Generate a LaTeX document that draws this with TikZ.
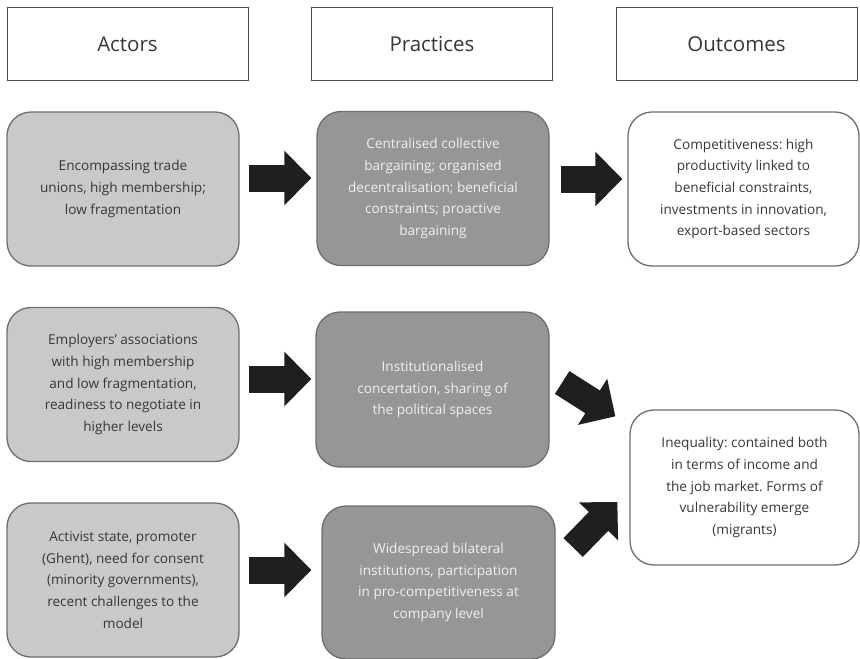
\documentclass[tikz,border=0pt]{standalone}
\usepackage{fontspec}
\setmainfont{Open Sans}
\frenchspacing
\usetikzlibrary{calc,arrows.meta}
\definecolor{lightfill}{RGB}{201,201,202}
\definecolor{darkfill}{RGB}{150,150,152}
\definecolor{boxline}{RGB}{110,110,112}
\definecolor{txt}{RGB}{55,55,55}
\definecolor{lighttxt}{RGB}{240,240,240}
\begin{document}
\begin{tikzpicture}[x=1pt,y=-1pt,
  header/.style={draw=txt!90, line width=0.9pt, fill=white, minimum width=241pt, minimum height=73pt,
    inner sep=0pt, text=txt, font=\fontsize{20.5pt}{24pt}\selectfont},
  basebox/.style={rounded corners=24pt, line width=1.3pt, draw=boxline, minimum width=232pt,
    minimum height=154pt, inner sep=0pt, align=center, font=\frenchspacing\fontsize{13.6pt}{21.6pt}\selectfont},
  actbox/.style={basebox, fill=lightfill, text=txt},
  pracbox/.style={basebox, fill=darkfill, text=lighttxt},
  outbox/.style={basebox, fill=white, text=txt, minimum width=231pt},
  bigarrow/.style={line width=27pt, draw=black!88, -{Triangle[length=27pt,width=53pt]}}
]
\useasboundingbox (0,0) rectangle (860,659);
\fill[white] (0,0) rectangle (860,659);

% headers
\node[header] (h1) at (127.5,44) {Actors};
\node[header] (h2) at (432,44) {Practices};
\node[header] (h3) at (736.5,44) {Outcomes};

% row 1
\node[actbox] (a1) at (123,189) {Encompassing trade\\unions, high membership;\\low fragmentation};
\node[pracbox] (p1) at (433,188.5) {Centralised collective\\bargaining; organised\\decentralisation; beneficial\\constraints; proactive\\bargaining};
\node[outbox] (o1) at (743.5,189) {Competitiveness: high\\productivity linked to\\beneficial constraints,\\investments in innovation,\\export-based sectors};

% row 2
\node[actbox] (a2) at (123,384.5) {Employers’ associations\\with high membership\\and low fragmentation,\\readiness to negotiate in\\higher levels};
\node[pracbox, minimum width=233pt, minimum height=155pt] (p2) at (432.5,389.5) {Institutionalised\\concertation, sharing of\\the political spaces};
\node[outbox, minimum width=229pt, minimum height=155pt] (o2) at (744.5,487.5) {Inequality: contained both\\in terms of income and\\the job market. Forms of\\vulnerability emerge\\(migrants)};

% row 3
\node[actbox] (a3) at (123,580) {Activist state, promoter\\(Ghent), need for consent\\(minority governments),\\recent challenges to the\\model};
\node[pracbox, minimum width=233pt, minimum height=153pt] (p3) at (438.5,582.5) {Widespread bilateral\\institutions, participation\\in pro-competitiveness at\\company level};

% arrows
\draw[bigarrow] ($(a1.east)+(9,-11)$) -- ($(p1.west)+(-5,-10.5)$);
\draw[bigarrow] ($(p1.east)+(11,-9.5)$) -- ($(o1.west)+(-5,-10)$);
\draw[bigarrow] ($(a2.east)+(9,-5.5)$) -- ($(p2.west)+(-4,-10.5)$);
\draw[bigarrow] ($(a3.east)+(9,-10)$) -- ($(p3.west)+(-10,-12.5)$);
\draw[bigarrow] ($(p2.east)+(12.5,-7)$) -- ($(o2.north west)+(-14,7)$);
\draw[bigarrow] ($(p3.east)+(17.5,-35)$) -- ($(o2.west)+(-12,14.5)$);
\end{tikzpicture}
\end{document}
